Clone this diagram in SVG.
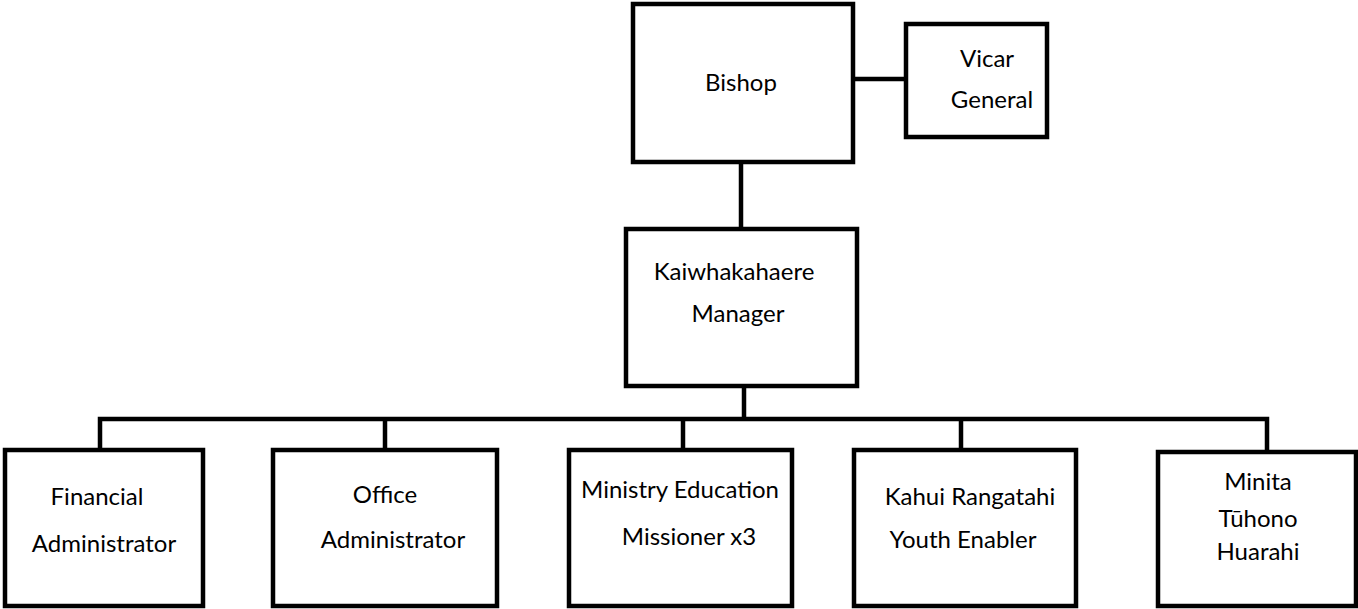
<svg xmlns="http://www.w3.org/2000/svg" width="1358" height="609" viewBox="0 0 1358 609">
<style>
.box{fill:#fff;stroke:#000;stroke-width:4.5;stroke-linejoin:miter}
.ln{fill:none;stroke:#000;stroke-width:4.5}
text{font-family:Lato,"Open Sans",sans-serif;font-size:24px;fill:#000;text-anchor:middle}
</style>
<rect width="1358" height="609" fill="#fff"/>
<g id="connectors">
<line class="ln" x1="853" y1="79" x2="906" y2="79"/>
<line class="ln" x1="741" y1="162" x2="741" y2="229"/>
<line class="ln" x1="744" y1="386" x2="744" y2="419"/>
<polyline class="ln" points="100,450 100,419 1267,419 1267,452"/>
<line class="ln" x1="385" y1="419" x2="385" y2="450"/>
<line class="ln" x1="683" y1="419" x2="683" y2="450"/>
<line class="ln" x1="961" y1="419" x2="961" y2="450"/>
</g>
<g id="bishop">
<rect class="box" x="633" y="4" width="220" height="158"/>
<text x="741" y="91">Bishop</text>
</g>
<g id="vicar-general">
<rect class="box" x="906" y="24" width="141" height="113"/>
<text x="987" y="67">Vicar</text>
<text x="992" y="108">General</text>
</g>
<g id="kaiwhakahaere">
<rect class="box" x="626" y="229" width="231" height="157"/>
<text x="734" y="280">Kaiwhakahaere</text>
<text x="738" y="322">Manager</text>
</g>
<g id="financial">
<rect class="box" x="5" y="450" width="198" height="156"/>
<text x="97" y="505">Financial</text>
<text x="104" y="552">Administrator</text>
</g>
<g id="office">
<rect class="box" x="273" y="450" width="224" height="156"/>
<text x="385" y="503">Office</text>
<text x="393" y="548">Administrator</text>
</g>
<g id="ministry">
<rect class="box" x="569" y="450" width="223" height="156"/>
<text x="680" y="498">Ministry Education</text>
<text x="689" y="545">Missioner x3</text>
</g>
<g id="kahui">
<rect class="box" x="854" y="450" width="222" height="156"/>
<text x="970" y="505">Kahui Rangatahi</text>
<text x="963" y="548">Youth Enabler</text>
</g>
<g id="minita">
<rect class="box" x="1158" y="452" width="198" height="154"/>
<text x="1258" y="490">Minita</text>
<text x="1258" y="527">Tūhono</text>
<text x="1258" y="560">Huarahi</text>
</g>
</svg>
